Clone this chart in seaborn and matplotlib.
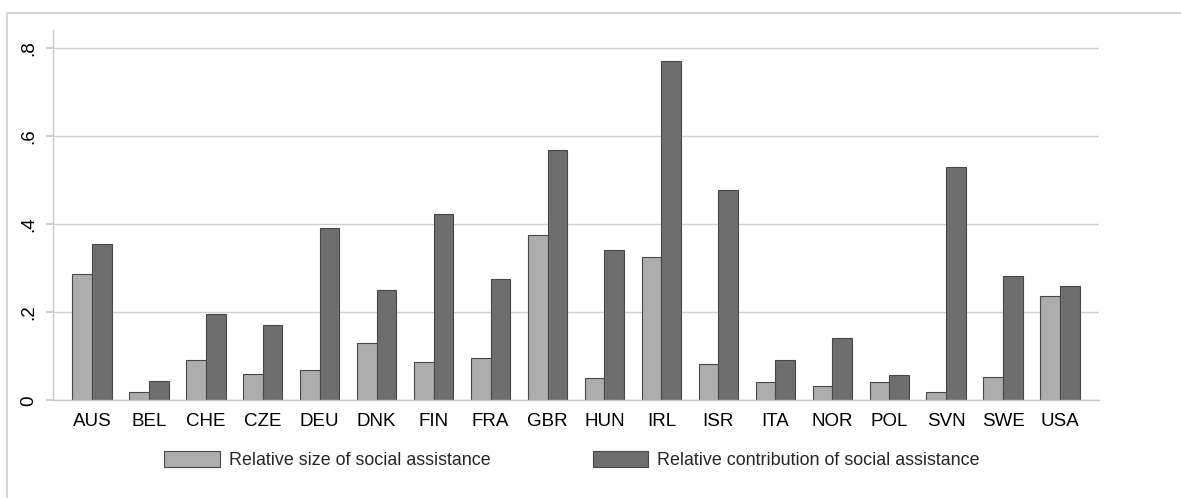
import matplotlib
matplotlib.use("Agg")
import matplotlib.pyplot as plt
import seaborn as sns
import pandas as pd
from matplotlib.patches import Patch
from matplotlib.lines import Line2D

countries = ["AUS", "BEL", "CHE", "CZE", "DEU", "DNK", "FIN", "FRA", "GBR",
             "HUN", "IRL", "ISR", "ITA", "NOR", "POL", "SVN", "SWE", "USA"]
rel_size = [0.287, 0.019, 0.091, 0.059, 0.069, 0.129, 0.086, 0.097, 0.375,
            0.051, 0.325, 0.082, 0.041, 0.032, 0.041, 0.019, 0.052, 0.237]
rel_contrib = [0.354, 0.044, 0.195, 0.170, 0.390, 0.250, 0.422, 0.276, 0.568,
               0.340, 0.770, 0.477, 0.091, 0.142, 0.057, 0.530, 0.283, 0.259]
series_names = ["Relative size of social assistance",
                "Relative contribution of social assistance"]
yticks = [0, 0.2, 0.4, 0.6, 0.8]
ytick_labels = ["0", ".2", ".4", ".6", ".8"]

df = pd.DataFrame({
    "country": countries * 2,
    "value": rel_size + rel_contrib,
    "series": [series_names[0]] * len(countries) + [series_names[1]] * len(countries),
})

sns.set_theme(style="white")
plt.rcParams["font.family"] = ["Liberation Sans", "DejaVu Sans"]

colors = ["#adadad", "#6e6e6e"]
edge = "#484848"
W, H = 1181, 498
fig = plt.figure(figsize=(W / 100, H / 100), dpi=100)
ax = fig.add_axes([53 / W, 1 - 400.3 / H, (1099 - 53) / W, (400.3 - 30) / H])

sns.barplot(data=df, x="country", y="value", hue="series", order=countries,
            hue_order=series_names, palette=colors, width=0.69, ax=ax,
            edgecolor=edge, linewidth=0.8, saturation=1, legend=False)

ax.set_xlim(-0.685, len(countries) - 1 + 0.685)
ax.set_ylim(0, 0.84)
ax.set_yticks(yticks)
ax.set_yticklabels(ytick_labels, rotation=90, va="center")
ax.yaxis.grid(True, color="#d0d0d0", linewidth=1)
ax.set_axisbelow(True)
ax.set_xlabel("")
ax.set_ylabel("")
for s in ["top", "right"]:
    ax.spines[s].set_visible(False)
ax.spines["left"].set_color("#c8c8c8")
ax.spines["bottom"].set_color("#c8c8c8")
ax.spines["left"].set_linewidth(1)
ax.spines["bottom"].set_linewidth(1)
ax.tick_params(axis="y", left=True, length=5, color="#c8c8c8", labelsize=13.5, pad=6)
ax.tick_params(axis="x", bottom=False, labelsize=13.5, pad=3)
for lbl in ax.get_xticklabels() + ax.get_yticklabels():
    lbl.set_color("black")

handles = [Patch(facecolor=colors[0], edgecolor=edge, linewidth=0.8),
           Patch(facecolor=colors[1], edgecolor=edge, linewidth=0.8)]
fig.legend(handles, series_names, loc="center", bbox_to_anchor=(572 / W, 1 - 460 / H),
           ncol=2, frameon=False, fontsize=12.9, handlelength=3.1, handleheight=0.95,
           columnspacing=5.7, handletextpad=0.5)

# outer frame (Stata-style)
fig.add_artist(Line2D([7 / W, 7 / W], [0, 1 - 13 / H], transform=fig.transFigure,
                      color="#d6d6d6", linewidth=1.5))
fig.add_artist(Line2D([7 / W, 1], [1 - 13 / H, 1 - 13 / H], transform=fig.transFigure,
                      color="#d6d6d6", linewidth=1.5))

fig.savefig("out.png", dpi=100, facecolor="white")
